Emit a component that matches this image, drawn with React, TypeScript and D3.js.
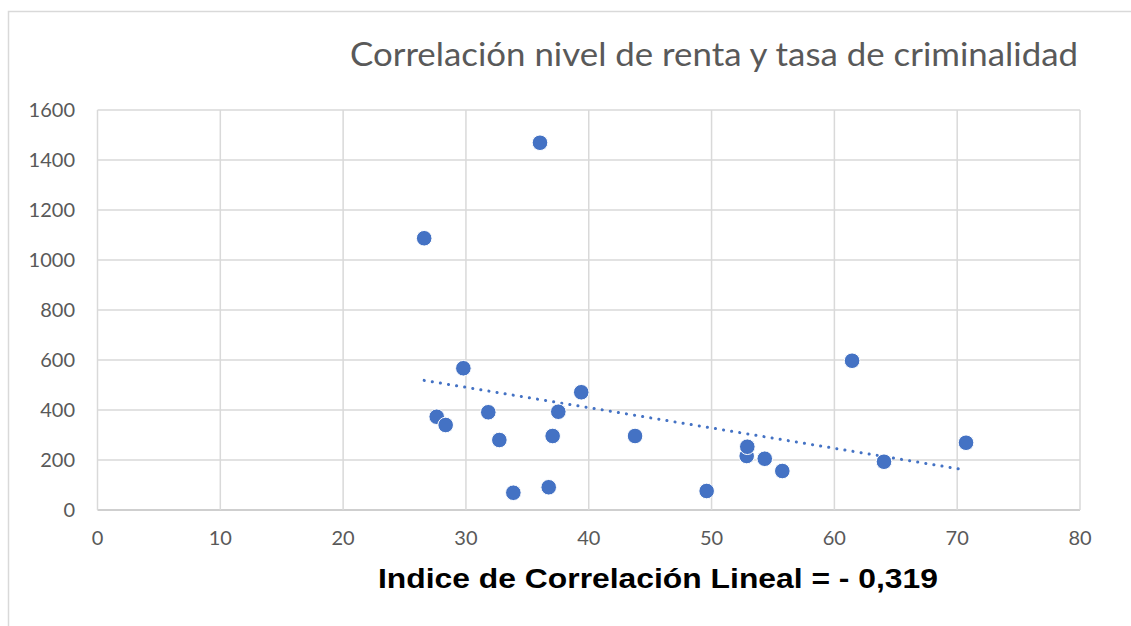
import * as d3 from 'd3'
import { useRef, useEffect } from 'react'

// nivel de renta (x) y tasa de criminalidad (y)
const renta = [26.6, 36.03, 29.79, 27.62, 28.35, 31.82, 32.72, 33.86, 36.74, 37.06, 37.52, 39.39, 43.77, 49.6, 52.86, 52.91, 54.33, 55.76, 61.44, 64.04, 70.72]
const criminalidad = [1087, 1469, 567, 373, 340, 391, 280, 69, 91, 296, 393, 471, 296, 76, 216, 253, 205, 156, 597, 193, 269]
const xTicks = [0, 10, 20, 30, 40, 50, 60, 70, 80]
const yTicks = [0, 200, 400, 600, 800, 1000, 1200, 1400, 1600]
const title = 'Correlación nivel de renta y tasa de criminalidad'
const note = 'Indice de Correlación Lineal = - 0,319'

export default function App() {
    const svgRef = useRef<SVGSVGElement>(null)
    useEffect(() => {
        const width = 1131, height = 626
        const svg = d3.select(svgRef.current)
        svg.selectAll('*').remove()
        svg.attr('width', width).attr('height', height)

        const blue = '#4472C4'
        const grid = '#d9d9d9'
        const labelFont = 'Lato, "Open Sans", sans-serif'

        // marco del gráfico
        svg.append('path')
            .attr('d', `M8.5,${height} V11.5 H${width}`)
            .attr('fill', 'none')
            .attr('stroke', grid)
            .attr('stroke-width', 1.5)

        const xScale = d3.scaleLinear().domain([0, 80]).range([97.5, 1080])
        const yScale = d3.scaleLinear().domain([0, 1600]).range([510, 110])

        const g = svg.append('g')
        g.selectAll('line.h')
            .data(yTicks)
            .join('line')
            .attr('class', 'h')
            .attr('x1', xScale(0)).attr('x2', xScale(80))
            .attr('y1', d => yScale(d)).attr('y2', d => yScale(d))
            .attr('stroke', d => d === 0 ? '#bfbfbf' : grid)
            .attr('stroke-width', 1.5)
        g.selectAll('line.v')
            .data(xTicks)
            .join('line')
            .attr('class', 'v')
            .attr('y1', yScale(0)).attr('y2', yScale(1600))
            .attr('x1', d => xScale(d)).attr('x2', d => xScale(d))
            .attr('stroke', grid)
            .attr('stroke-width', 1.5)

        g.selectAll('text.yl')
            .data(yTicks)
            .join('text')
            .attr('class', 'yl')
            .text(d => d)
            .attr('x', 75)
            .attr('y', d => yScale(d) + 7)
            .attr('text-anchor', 'end')
            .attr('font-family', labelFont)
            .attr('font-size', 20)
            .attr('fill', '#595959')
        g.selectAll('text.xl')
            .data(xTicks)
            .join('text')
            .attr('class', 'xl')
            .text(d => d)
            .attr('x', d => xScale(d))
            .attr('y', 545)
            .attr('text-anchor', 'middle')
            .attr('font-family', labelFont)
            .attr('font-size', 20)
            .attr('fill', '#595959')

        // línea de tendencia (mínimos cuadrados)
        const points = renta.map((x, i) => ({ x, y: criminalidad[i] }))
        const mx = d3.mean(renta) as number
        const my = d3.mean(criminalidad) as number
        const sxy = d3.sum(points, p => (p.x - mx) * (p.y - my))
        const sxx = d3.sum(points, p => (p.x - mx) ** 2)
        const slope = sxy / sxx
        const fit = (x: number) => my + slope * (x - mx)
        const [x0, x1] = d3.extent(renta) as [number, number]
        const line = d3.line<number>().x(d => xScale(d)).y(d => yScale(fit(d)))
        g.append('path')
            .attr('d', line([x0, x1]))
            .attr('fill', 'none')
            .attr('stroke', blue)
            .attr('stroke-width', 3)
            .attr('stroke-linecap', 'round')
            .attr('stroke-dasharray', '0.1 8.1')

        g.selectAll('circle')
            .data(points)
            .join('circle')
            .attr('cx', d => xScale(d.x))
            .attr('cy', d => yScale(d.y))
            .attr('r', 7.8)
            .attr('fill', blue)
            .attr('stroke', '#fff')
            .attr('stroke-width', 1)

        svg.append('text')
            .text(title)
            .attr('x', 350)
            .attr('y', 66)
            .attr('textLength', 728)
            .attr('lengthAdjust', 'spacingAndGlyphs')
            .attr('font-family', labelFont)
            .attr('font-size', 33)
            .attr('fill', '#595959')

        svg.append('text')
            .text(note)
            .attr('x', 378)
            .attr('y', 588)
            .attr('textLength', 560)
            .attr('lengthAdjust', 'spacingAndGlyphs')
            .attr('font-family', '"Liberation Sans", Arial, sans-serif')
            .attr('font-weight', 'bold')
            .attr('font-size', 27)
            .attr('fill', '#000')
    }, [])
    return (
        <svg ref={svgRef} style={{ position: 'absolute', left: 0, top: 0, display: 'block' }}></svg>
    )
}
